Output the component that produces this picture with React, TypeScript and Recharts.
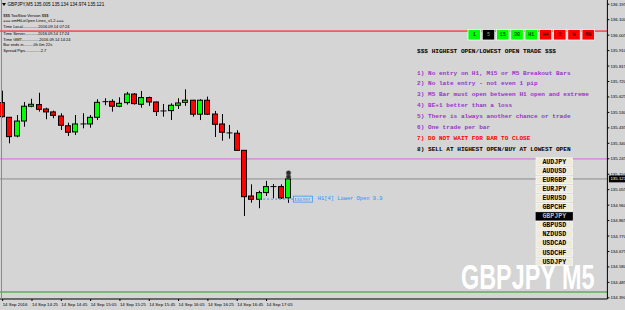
import React from 'react';
import { ComposedChart, Bar, XAxis, YAxis, ReferenceLine, ReferenceDot } from 'recharts';

// M5 bars, 14 Sep 2016
const times = ['14:05', '14:10', '14:15', '14:20', '14:25', '14:30', '14:35', '14:40', '14:45', '14:50', '14:55',
  '15:00', '15:05', '15:10', '15:15', '15:20', '15:25', '15:30', '15:35', '15:40', '15:45', '15:50', '15:55',
  '16:00', '16:05', '16:10', '16:15', '16:20', '16:25', '16:30', '16:35', '16:40', '16:45', '16:50', '16:55',
  '17:00', '17:05', '17:10', '17:15', '17:20'];
const opens = [135.590, 135.500, 135.385, 135.477, 135.568, 135.578, 135.551, 135.533, 135.508, 135.448, 135.410,
  135.459, 135.459, 135.500, 135.596, 135.598, 135.568, 135.590, 135.643, 135.580, 135.621, 135.594, 135.539,
  135.541, 135.574, 135.592, 135.605, 135.519, 135.605, 135.520, 135.459, 135.404, 135.402, 135.297, 135.016,
  134.996, 135.037, 135.074, 135.074, 135.005];
const highs = [135.664, 135.502, 135.514, 135.594, 135.614, 135.651, 135.559, 135.541, 135.525, 135.467, 135.514,
  135.525, 135.514, 135.611, 135.617, 135.611, 135.623, 135.656, 135.649, 135.662, 135.627, 135.598, 135.582,
  135.586, 135.617, 135.672, 135.607, 135.611, 135.627, 135.539, 135.520, 135.453, 135.420, 135.298, 135.088,
  135.049, 135.109, 135.090, 135.088, 135.134];
const lows = [135.499, 135.340, 135.377, 135.442, 135.562, 135.535, 135.488, 135.494, 135.422, 135.385, 135.391,
  135.432, 135.436, 135.483, 135.574, 135.535, 135.562, 135.578, 135.578, 135.559, 135.570, 135.508, 135.504,
  135.483, 135.551, 135.570, 135.504, 135.483, 135.514, 135.379, 135.356, 135.369, 135.294, 134.893, 134.975,
  134.941, 135.016, 135.002, 134.998, 134.974];
const closes = [135.504, 135.381, 135.477, 135.568, 135.580, 135.549, 135.533, 135.512, 135.451, 135.408, 135.459,
  135.459, 135.500, 135.592, 135.596, 135.568, 135.586, 135.643, 135.584, 135.621, 135.594, 135.535, 135.539,
  135.574, 135.588, 135.605, 135.519, 135.605, 135.519, 135.457, 135.408, 135.404, 135.297, 135.012, 134.996,
  135.037, 135.074, 135.074, 135.004, 135.121];

// empty M5 slots to the right of the last candle (17:25 onwards)
const emptySlots = 43;
const pad = (n: number) => (n < 10 ? '0' + n : '' + n);
const futureTimes = Array.from({ length: emptySlots }, (_, i) => {
  const m = 17 * 60 + 25 + i * 5;
  return pad(Math.floor(m / 60)) + ':' + pad(m % 60);
});

const priceTicks = [136.195, 136.100, 136.005, 135.910, 135.815, 135.720, 135.625, 135.530, 135.435, 135.340,
  135.245, 135.150, 135.055, 134.960, 134.865, 134.770, 134.675, 134.580, 134.485, 134.390];
const bidPrice = 135.121;
const timeTicks = ['14:05', '14:25', '14:45', '15:05', '15:25', '15:45', '16:05', '16:25', '16:45', '17:05'];
const timeLabels = ['14 Sep 2016', '14 Sep 14:25', '14 Sep 14:45', '14 Sep 15:05', '14 Sep 15:25', '14 Sep 15:45',
  '14 Sep 16:05', '14 Sep 16:25', '14 Sep 16:45', '14 Sep 17:05'];

const highOpenLine = 136.030;
const magentaLine = 135.244;
const greenLine = 134.426;
const lowerOpen = 134.997;
const markerPrices = [135.158, 135.133];

const infoLines = [
  '$$$ TooSlow Version $$$',
  '=== omHiLoOpen Lines_v1.2 ===',
  'Time Local..............2016.09.14 07:24',
  'Time Server............2016.09.14 17:24',
  'Time GMT................2016.09.14 14:24',
  'Bar ends in.........0h 0m 22s',
  'Spread Pips..............2.7',
];
const infoY = [15, 20.7, 26.3, 33.3, 39, 44.7, 50];

const ruleLines = [
  '1) No entry on H1, M15 or M5 Breakout Bars',
  '2) No late entry - not even 1 pip',
  '3) M5 Bar must open between H1 open and extreme',
  '4) BE+1 better than a loss',
  '5) There is always another chance or trade',
  '6) One trade per bar',
  '7) DO NOT WAIT FOR BAR TO CLOSE',
  '8) SELL AT HIGHEST OPEN/BUY AT LOWEST OPEN',
];
const ruleColors = ['#9932cc', '#9932cc', '#9932cc', '#9932cc', '#9932cc', '#9932cc', '#ff0000', '#000000'];

const periods = ['1', '5', '15', '30', 'H1', 'H4', 'D', 'W', 'MN'];
const periodFills = ['#00ff00', '#000000', '#00ff00', '#00ff00', '#00ff00', '#ff0000', '#ff0000', '#ff0000', '#ff0000'];

const symbols = ['AUDJPY', 'AUDUSD', 'EURGBP', 'EURJPY', 'EURUSD', 'GBPCHF', 'GBPJPY', 'GBPUSD', 'NZDUSD', 'USDCAD', 'USDCHF', 'USDJPY'];
const activeSymbol = 'GBPJPY';

const chartData = [
  ...times.map((t, i) => ({ t, o: opens[i], h: highs[i], l: lows[i], c: closes[i], range: [lows[i], highs[i]] })),
  ...futureTimes.map((t) => ({ t, o: null, h: null, l: null, c: null, range: null })),
];

const sans = 'Liberation Sans, Arial, sans-serif';
const mono = 'Liberation Mono, Courier New, monospace';

function Candle(props: any) {
  const { x, y, width, height, payload } = props;
  if (!payload || payload.h == null) return null;
  const { o, h, l, c } = payload;
  const top = Math.min(y, y + height);
  const bot = Math.max(y, y + height);
  const k = (bot - top) / (h - l);
  const py = (v: number) => top + (h - v) * k;
  const cxi = Math.floor(x + width / 2);
  const bodyTop = py(Math.max(o, c));
  const bodyBot = py(Math.min(o, c));
  return (
    <g>
      <line x1={cxi + 0.5} x2={cxi + 0.5} y1={top} y2={bot} stroke="#000" strokeWidth={1} />
      {o === c ? (
        <line x1={cxi - 2.5} x2={cxi + 3.5} y1={bodyTop} y2={bodyTop} stroke="#000" strokeWidth={1} />
      ) : (
        <rect x={cxi - 2.5} y={bodyTop} width={5} height={Math.max(bodyBot - bodyTop, 1)}
          fill={c > o ? '#00ff00' : '#ff0000'} stroke="#000" strokeWidth={1} />
      )}
    </g>
  );
}

function TimeTick(props: any) {
  const { x, y, payload } = props;
  const idx = timeTicks.indexOf(payload.value);
  if (idx < 0) return null;
  return (
    <g>
      <line x1={x} x2={x} y1={y} y2={y + 2} stroke="#000" />
      <text x={x} y={y + 5.4} fontSize={4.4} fontFamily={sans} fill="#000" dominantBaseline="central">
        {timeLabels[idx]}
      </text>
    </g>
  );
}

function PriceTick(props: any) {
  const { x, y, payload } = props;
  const v = payload.value;
  if (v === bidPrice) {
    return (
      <g>
        <rect x={x + 1.5} y={y - 3.4} width={17} height={6.8} fill="#000" />
        <text x={x + 3} y={y} fontSize={4.4} fontFamily={sans} fill="#fff" dominantBaseline="central">
          {v.toFixed(3)}
        </text>
      </g>
    );
  }
  return (
    <g>
      <line x1={x} x2={x + 2} y1={y} y2={y} stroke="#000" />
      <text x={x + 3} y={y} fontSize={4.4} fontFamily={sans} fill="#000" dominantBaseline="central">
        {v.toFixed(3)}
      </text>
    </g>
  );
}

function LowerOpenLabel(props: any) {
  const vb = props.viewBox || {};
  const x2 = vb.x2 != null ? vb.x2 : vb.x + vb.width;
  const y = vb.y1 != null ? vb.y1 : vb.y;
  return (
    <g>
      <rect x={x2 - 2.5} y={y - 3} width={19} height={6} fill="none" stroke="#3399ff" strokeWidth={0.8} />
      <text x={x2 - 1.5} y={y} fontSize={4.4} fontFamily={sans} fill="#1e90ff" dominantBaseline="central">
        {lowerOpen.toFixed(3)}
      </text>
      <text x={x2 + 22} y={y} fontSize={5.4} fontFamily={mono} fill="#1e90ff" dominantBaseline="central">
        H1[4] Lower Open 9.9
      </text>
    </g>
  );
}

export default function App() {
  return (
    <div style={{ position: 'absolute', left: 0, top: 0, width: 625, height: 310, background: '#d5d5d5', overflow: 'hidden' }}>
      <div style={{ position: 'absolute', left: -1.4, top: 0 }}>
        <ComposedChart width={626.4} height={310} data={chartData} margin={{ top: 0, right: 0, bottom: 0, left: 0 }} barCategoryGap={0}>
          <XAxis dataKey="t" ticks={timeTicks} interval={0} height={11} tickSize={0} tickMargin={0}
            axisLine={{ stroke: '#000' }} tickLine={false} tick={<TimeTick />} />
          <YAxis orientation="right" domain={[134.383, 136.221]} allowDataOverflow type="number"
            ticks={[...priceTicks, bidPrice]} interval={0} width={18} tickSize={0} tickMargin={0}
            axisLine={{ stroke: '#000' }} tickLine={false} tick={<PriceTick />} />
          <ReferenceLine y={highOpenLine} stroke="#ff0000" strokeWidth={1} zIndex={0} />
          <ReferenceLine y={magentaLine} stroke="#dd66dd" strokeWidth={1} zIndex={0} />
          <ReferenceLine y={bidPrice} stroke="#8c8c8c" strokeWidth={1} zIndex={0} />
          <ReferenceLine y={greenLine} stroke="#229922" strokeWidth={1} zIndex={0} />
          <ReferenceLine segment={[{ x: '17:00', y: lowerOpen }, { x: '17:25', y: lowerOpen }]}
            stroke="#3399ff" strokeDasharray="2 2" strokeWidth={1} label={<LowerOpenLabel />} />
          <Bar dataKey="range" shape={<Candle />} isAnimationActive={false} />
          {markerPrices.map((p) => (
            <ReferenceDot key={p} x="17:20" y={p} r={2.3} fill="#2a2a2a" stroke="#555" strokeWidth={0.6} />
          ))}
        </ComposedChart>
      </div>
      <svg width={625} height={310} style={{ position: 'absolute', left: 0, top: 0, pointerEvents: 'none' }}>
        <line x1={1.5} x2={1.5} y1={0} y2={299} stroke="#8a8a8a" />
        <path d="M2 3 L6 3 L4 6 Z" fill="#000" />
        <text x={7.5} y={4.7} fontSize={4.6} fontFamily={sans} fill="#000" dominantBaseline="central">
          GBPJPY,M5 135.005 135.134 134.974 135.121
        </text>
        {infoLines.map((s, i) => (
          <text key={s} x={3.3} y={infoY[i]} fontSize={4} fontFamily={sans} fill="#000" dominantBaseline="central">{s}</text>
        ))}
        {periods.map((p, i) => {
          const bx = 468 + i * 14.25;
          return (
            <g key={p}>
              <rect x={bx} y={29.5} width={12.5} height={10.5} fill={periodFills[i]} stroke="#f4f4f4" strokeWidth={0.8} />
              <text x={bx + 6.25} y={35} fontSize={5} fontFamily={mono} fill={p === '5' ? '#7fbf7f' : '#000'}
                textAnchor="middle" dominantBaseline="central">{p}</text>
            </g>
          );
        })}
        <text x={417} y={51} fontSize={6.1} fontWeight="bold" fontFamily={mono} fill="#000" dominantBaseline="central">
          $$$ HIGHEST OPEN/LOWEST OPEN TRADE $$$
        </text>
        {ruleLines.map((s, i) => (
          <text key={s} x={417} y={73 + i * 10.9} fontSize={6.1} fontWeight="bold" fontFamily={mono} fill={ruleColors[i]}
            dominantBaseline="central">{s}</text>
        ))}
        {symbols.map((s, i) => {
          const cy = 161.7 + i * 9.1;
          const active = s === activeSymbol;
          return (
            <g key={s}>
              <rect x={536} y={cy - 3.8} width={36.5} height={7.6} fill={active ? '#000' : '#efebd8'}
                stroke={active ? '#000' : '#fafafa'} strokeWidth={0.7} />
              <text x={554.25} y={cy + 0.3} fontSize={6.6} fontWeight="bold" fontFamily={mono} textAnchor="middle"
                fill={active ? '#bbbbbb' : '#000'} dominantBaseline="central">{s}</text>
            </g>
          );
        })}
        <g transform="translate(461 289) scale(0.669 1)">
          <text x={0} y={0} fontSize={35} fontWeight="bold" fontFamily={sans} fill="#fff">GBPJPY M5</text>
        </g>
      </svg>
    </div>
  );
}
